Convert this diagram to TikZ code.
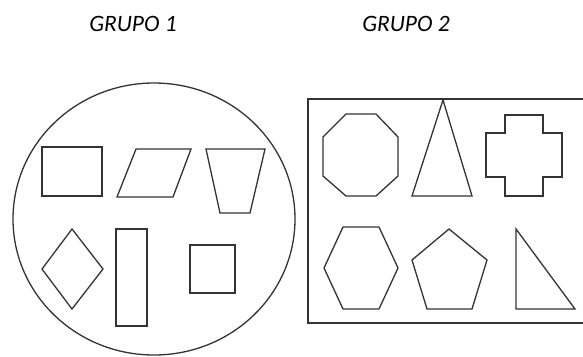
\documentclass[tikz,border=0pt]{standalone}
\usepackage{fontspec}
\setmainfont{Carlito}
\begin{document}
\begin{tikzpicture}[x=1pt,y=-1pt,
  shp/.style={draw=black!80,line width=1.3pt,line join=miter},
  lbl/.style={font=\itshape\fontsize{23.5}{26}\selectfont,inner sep=0pt,anchor=center}]
\useasboundingbox (0,0) rectangle (583,356);
\node[lbl] (g1) at (133,24) {GRUPO 1};
\node[lbl] (g2) at (406,24) {GRUPO 2};
% group 1
\draw[shp] (154,219) ellipse [x radius=141,y radius=136];
\draw[shp] (42,147) rectangle (102,196);
\draw[shp] (136,149) -- (191,149) -- (173,197) -- (117,197) -- cycle;
\draw[shp] (206,149) -- (265,149) -- (250,213) -- (220,213) -- cycle;
\draw[shp] (72,229) -- (103,269) -- (72,309) -- (42,269) -- cycle;
\draw[shp] (116,229) rectangle (147,326);
\draw[shp] (190,245) rectangle (235,293);
% group 2
\draw[shp] (586,99) -- (308,99) -- (308,323) -- (586,323);
\draw[shp] (346,114) -- (376,114) -- (398,137) -- (398,176) -- (376,196) -- (346,196) -- (323,176) -- (323,137) -- cycle;
\draw[shp] (443,100) -- (472,196) -- (412,196) -- cycle;
\draw[shp] (505,115) -- (543,115) -- (543,133) -- (562,133) -- (562,177) -- (543,177) -- (543,196) -- (505,196) -- (505,177) -- (486,177) -- (486,133) -- (505,133) -- cycle;
\draw[shp] (343,227) -- (379,227) -- (398,268) -- (379,309) -- (343,309) -- (324,268) -- cycle;
\draw[shp] (449,229) -- (487,260) -- (472,309) -- (427,309) -- (412,260) -- cycle;
\draw[shp] (516,229) -- (575,309) -- (516,309) -- cycle;
\end{tikzpicture}
\end{document}
